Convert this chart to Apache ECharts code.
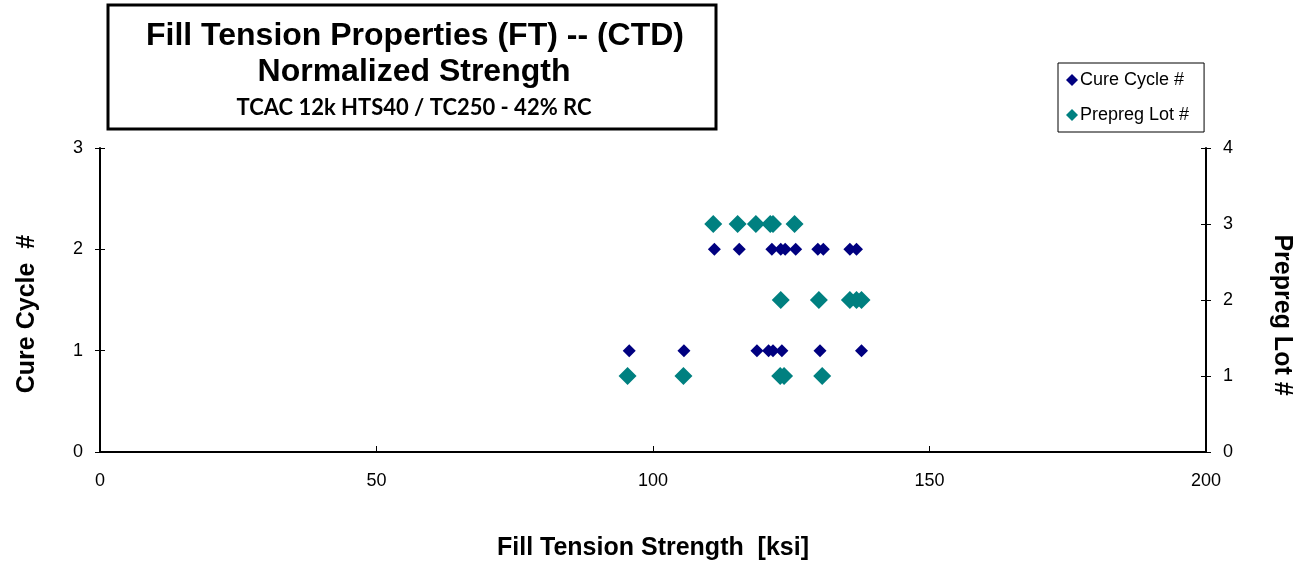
<!DOCTYPE html>
<html>
<head>
<meta charset="utf-8">
<script src="https://cdn.jsdelivr.net/npm/echarts@6/dist/echarts.min.js"></script>
<style>
	html, body { margin: 0; padding: 0; background: #fff; }
	#main { width: 1302px; height: 566px; }
</style>
</head>
<body>
<div id="main"></div>
<script>
// values
var cureX = [95.7, 105.6, 118.8, 120.9, 121.7, 123.3, 130.2, 137.7,
	111.1, 115.6, 121.5, 123.1, 123.9, 125.8, 129.8, 130.8, 135.6, 136.8];
var cureY = [1, 1, 1, 1, 1, 1, 1, 1,
	2, 2, 2, 2, 2, 2, 2, 2, 2, 2];
var lotX = [95.4, 105.5, 123.0, 123.7, 130.6,
	123.1, 130.0, 135.6, 136.8, 137.7,
	110.9, 115.3, 118.6, 121.2, 121.7, 125.6];
var lotY = [1, 1, 1, 1, 1,
	2, 2, 2, 2, 2,
	3, 3, 3, 3, 3, 3];

var FONT = "Liberation Sans, Arial, sans-serif";

function pairs(xs, ys) {
	var out = [];
	for (var i = 0; i < xs.length; i++) {
		out.push([xs[i], ys[i]]);
	}
	return out;
}

var myChart = echarts.init(document.querySelector("#main"));

var lineStyle = { color: "#000", width: 2 };
var tickStyle = { color: "#000", width: 1 };
var labelStyle = { color: "#000", fontSize: 18, fontFamily: FONT };
var nameStyle = { color: "#000", fontSize: 25, fontWeight: "bold", fontFamily: FONT };

var option = {
	animation: false,
	backgroundColor: "#fff",
	grid: { left: 100, right: 96, top: 148, bottom: 113, containLabel: false },
	graphic: [
		{
			type: "rect",
			shape: { x: 108, y: 5, width: 608, height: 124 },
			style: { fill: "#fff", stroke: "#000", lineWidth: 3 }
		},
		{
			type: "text", x: 415, y: 36,
			style: { text: "Fill Tension Properties (FT) -- (CTD)", fill: "#000",
				font: "bold 32px " + FONT, align: "center", verticalAlign: "middle" }
		},
		{
			type: "text", x: 414, y: 72,
			style: { text: "Normalized Strength", fill: "#000",
				font: "bold 32px " + FONT, align: "center", verticalAlign: "middle" }
		},
		{
			type: "text", x: 414, y: 108,
			style: { text: "TCAC 12k HTS40 / TC250 - 42% RC", fill: "#000",
				font: "bold 22px Lato, " + FONT, align: "center", verticalAlign: "middle" }
		}
	],
	legend: {
		orient: "vertical",
		left: 1058,
		top: 63,
		padding: [8, 15, 8, 8],
		itemGap: 17,
		itemWidth: 12,
		itemHeight: 12,
		borderColor: "#000",
		borderWidth: 1,
		textStyle: { color: "#000", fontSize: 18, fontFamily: FONT, padding: [0, 0, 0, -3] },
		data: [
			{ name: "Cure Cycle #", icon: "diamond" },
			{ name: "Prepreg Lot #", icon: "diamond" }
		]
	},
	xAxis: {
		type: "value",
		min: 0, max: 200, interval: 50,
		name: "Fill Tension Strength  [ksi]",
		nameLocation: "middle",
		nameGap: 84,
		nameTextStyle: nameStyle,
		axisLine: { lineStyle: lineStyle },
		axisTick: { inside: true, length: 6, lineStyle: tickStyle },
		axisLabel: Object.assign({ margin: 20 }, labelStyle),
		splitLine: { show: false }
	},
	yAxis: [
		{
			type: "value",
			position: "left",
			min: 0, max: 3, interval: 1,
			name: "Cure Cycle  #",
			nameLocation: "middle",
			nameGap: 60,
			nameTextStyle: Object.assign({ padding: [0, 28, 0, 0] }, nameStyle),
			axisLine: { show: true, lineStyle: lineStyle },
			axisTick: { show: true, length: 5, lineStyle: tickStyle },
			axisLabel: Object.assign({ margin: 17 }, labelStyle),
			splitLine: { show: false }
		},
		{
			type: "value",
			position: "right",
			min: 0, max: 4, interval: 1,
			name: "Prepreg Lot #",
			nameLocation: "middle",
			nameRotate: -90,
			nameGap: 63,
			nameTextStyle: Object.assign({ padding: [0, 0, 0, 30] }, nameStyle),
			axisLine: { show: true, lineStyle: lineStyle },
			axisTick: { show: true, length: 5, lineStyle: tickStyle },
			axisLabel: Object.assign({ margin: 17 }, labelStyle),
			splitLine: { show: false }
		},
		{
			// inner half of the crossing ticks on the left
			type: "value",
			position: "left",
			min: 0, max: 3, interval: 1,
			axisLine: { show: false },
			axisTick: { show: true, inside: true, length: 5, lineStyle: tickStyle },
			axisLabel: { show: false },
			splitLine: { show: false }
		},
		{
			// inner half of the crossing ticks on the right
			type: "value",
			position: "right",
			min: 0, max: 4, interval: 1,
			axisLine: { show: false },
			axisTick: { show: true, inside: true, length: 5, lineStyle: tickStyle },
			axisLabel: { show: false },
			splitLine: { show: false }
		}
	],
	series: [
		{
			name: "Cure Cycle #",
			type: "scatter",
			yAxisIndex: 0,
			symbol: "diamond",
			symbolSize: 13,
			itemStyle: { color: "#000080", opacity: 1 },
			data: pairs(cureX, cureY)
		},
		{
			name: "Prepreg Lot #",
			type: "scatter",
			yAxisIndex: 1,
			symbol: "diamond",
			symbolSize: 18,
			itemStyle: { color: "#008080", opacity: 1 },
			data: pairs(lotX, lotY)
		}
	]
};

myChart.setOption(option);
</script>
</body>
</html>
